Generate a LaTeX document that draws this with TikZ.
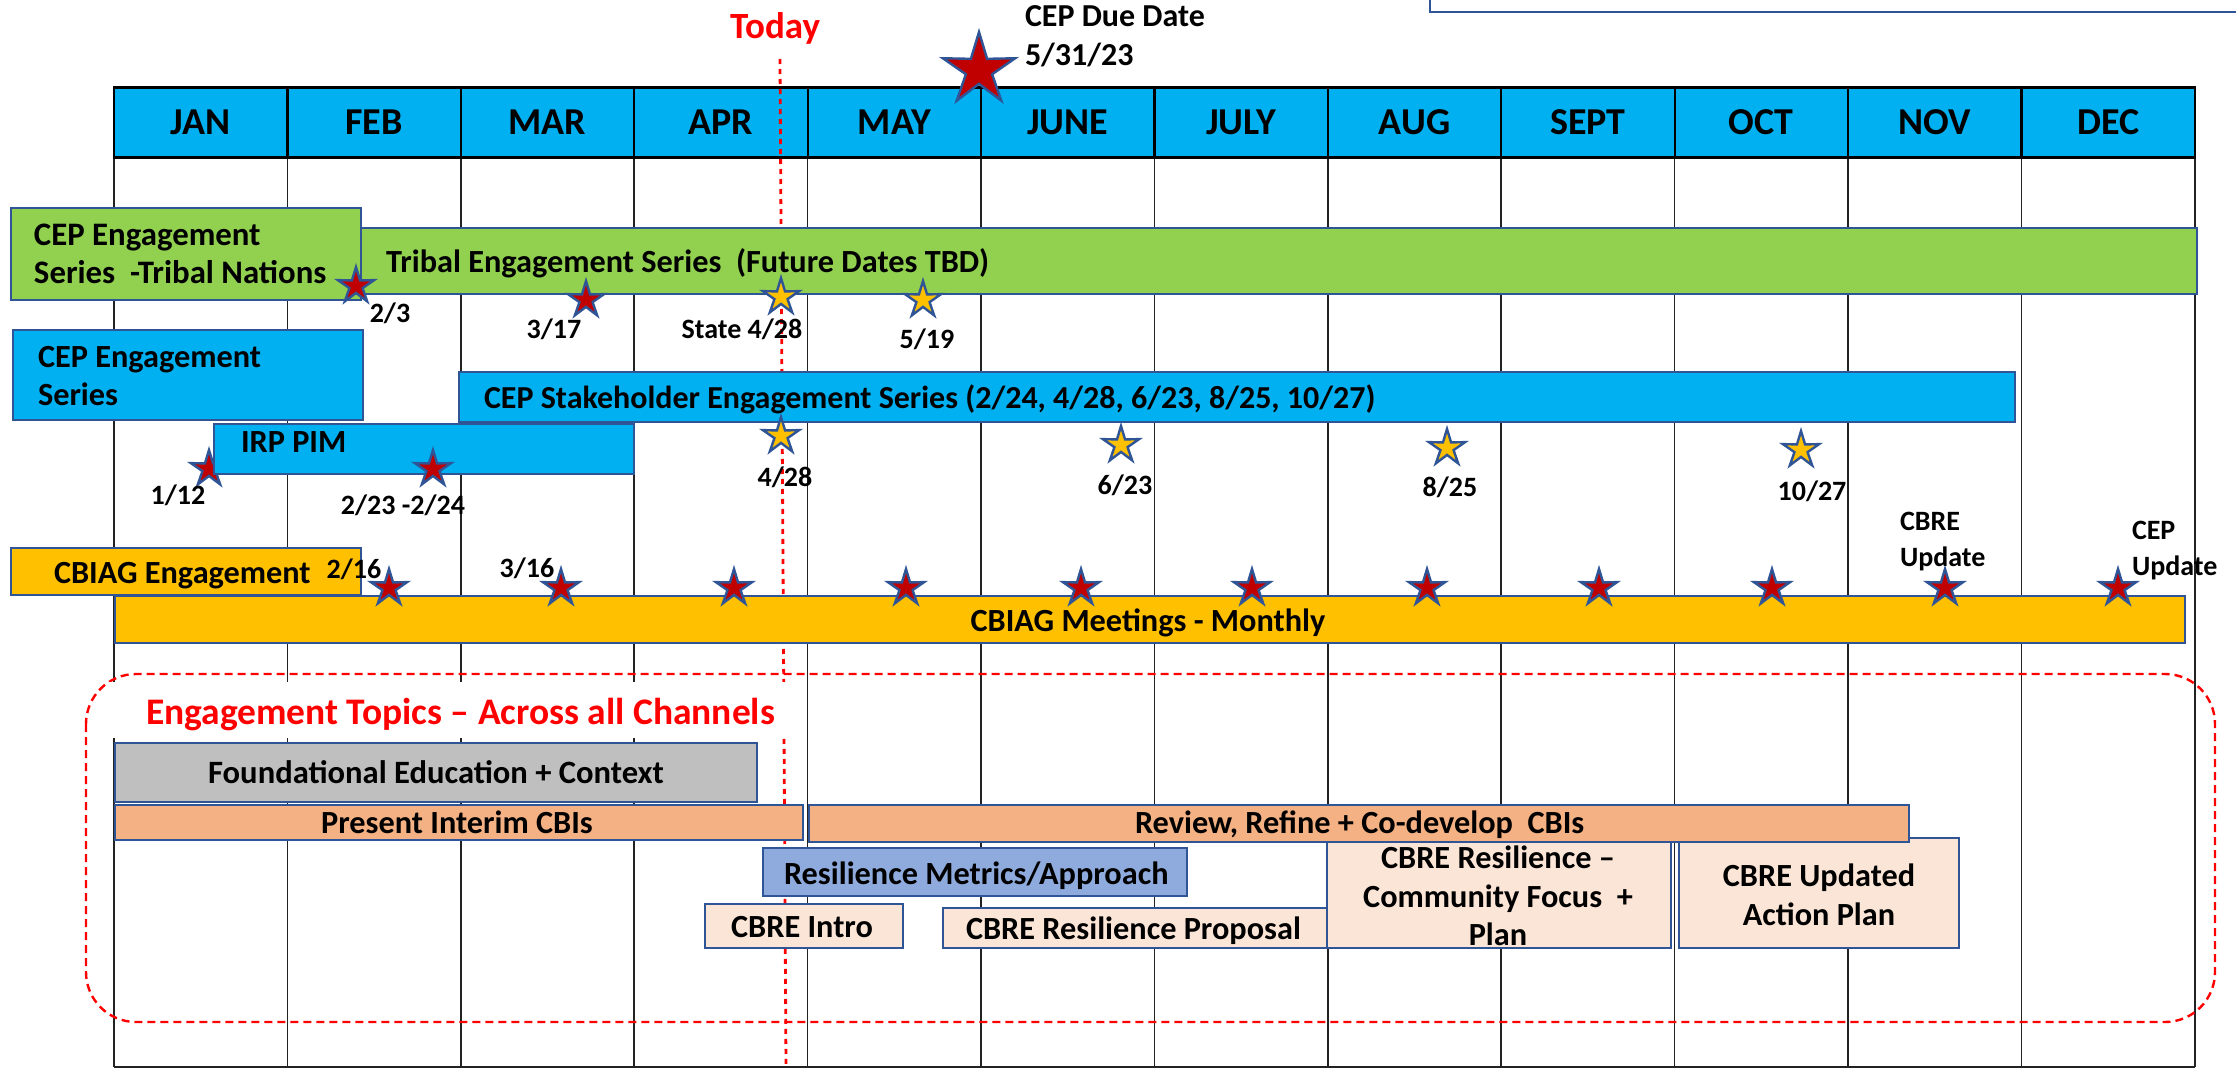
\documentclass[tikz,border=0pt]{standalone}
\usepackage{fontspec}
\setmainfont{Carlito}
\usetikzlibrary{shapes.geometric,fit}
\definecolor{edgeblue}{HTML}{2F5597}
\definecolor{cyanfill}{HTML}{00B0F0}
\definecolor{greenfill}{HTML}{92D050}
\definecolor{amberfill}{HTML}{FFC000}
\definecolor{greyfill}{HTML}{BFBFBF}
\definecolor{orangefill}{HTML}{F4B183}
\definecolor{periwinkle}{HTML}{8FAADC}
\definecolor{peachfill}{HTML}{FBE5D6}
\definecolor{starred}{HTML}{C00000}
\definecolor{gridgrey}{HTML}{222222}
\newcommand\fsz[1]{\fontsize{#1}{#1}\selectfont\bfseries}
\newcommand\fszl[2]{\fontsize{#1}{#2}\selectfont\bfseries}
\tikzset{
  x=1pt,y=-1pt,
  gridline/.style={draw=gridgrey,line width=1.5pt},
  cell/.style={draw=black,line width=2.2pt,fill=cyanfill,minimum width=173.4pt,minimum height=70pt,inner sep=0pt,outer sep=0pt},
  bar/.style={draw=edgeblue,line width=2.6pt,inner sep=0pt,outer sep=0pt,fit={#1}},
  txt/.style={inner sep=0pt,outer sep=0pt,text height={0.644*#1 pt},text depth=0pt,text=black,font=\fsz{#1}},
  stack/.style={inner sep=0pt,outer sep=0pt,align=left,text=black},
  bigstar/.style={star,star points=5,star point ratio=2.75,draw=edgeblue,line width=2.4pt,inner sep=0pt,outer sep=0pt,minimum size=#1},
  redstar/.style={bigstar=38pt,fill=starred},
  goldstar/.style={bigstar=38pt,fill=amberfill},
  todayline/.style={draw=red,line width=2.8pt,dash pattern=on 5pt off 5pt},
}
\begin{document}
\begin{tikzpicture}
\useasboundingbox (0,0) rectangle (2236,1068);
% fragment of a box cut by the top edge
\coordinate (fragA) at (1430,0);
\coordinate (fragB) at (1430,12);
\coordinate (fragC) at (2236,12);
\draw[edgeblue,line width=2.6pt] (fragA) -- (fragB) -- (fragC);
% month columns
\foreach \i/\m in {1/JAN,2/FEB,3/MAR,4/APR,5/MAY,6/JUNE,7/JULY,8/AUG,9/SEPT,10/OCT,11/NOV,12/DEC}{
  \coordinate (gtop\i) at ({114+173.4*(\i-1)},157);
  \coordinate (gbot\i) at ({114+173.4*(\i-1)},1067);
  \draw[gridline] (gtop\i) -- (gbot\i);
}
\coordinate (gtop13) at (2194.8,157);
\coordinate (gbot13) at (2194.8,1067);
\draw[gridline] (gtop13) -- (gbot13);
\draw[gridline] (gbot1) -- (gbot13);
\foreach \i/\m in {1/JAN,2/FEB,3/MAR,4/APR,5/MAY,6/JUNE,7/JULY,8/AUG,9/SEPT,10/OCT,11/NOV,12/DEC}{
  \node[cell,txt=38,draw=black,minimum width=173.4pt,minimum height=70pt] (m\i) at ({114+173.4*(\i-.5)},122.5) {\m};
}
\draw[black,line width=3.6pt] (m1.north west) -- (m12.north east) (m1.south west) -- (m12.south east);
% today line
\coordinate (todayA) at (780,59);
\coordinate (todayB) at (786,1068);
\draw[todayline] (todayA) -- (todayB);
\node[txt=37,text=red] (today) at (775,27) {Today};
% CEP due date
\node[stack,font=\fszl{32}{38.5},anchor=west] (due) at (1025,36) {CEP Due Date\\5/31/23};
\node[bigstar=76pt,fill=starred] (duestar) at (979,70) {};
% dashed frame of engagement topics
\draw[red,line width=2.4pt,dash pattern=on 8pt off 5pt,rounded corners=50pt] (86,674) rectangle (2215,1022);
\node[fill=white,inner sep=0pt,fit={(106,682)(792,738)}] (topicback) {};
\node[txt=37.5,text=red,anchor=west] (topics) at (146,712) {Engagement Topics – Across all Channels};
% stars tucked under bars
\node[redstar] (s112) at (209,469) {};
% green bars
\node[bar={(361,228)(2197,294)},fill=greenfill] (tribal) {};
\node[txt=32.3,anchor=west] (tribalt) at (386,262) {Tribal Engagement Series\ \ (Future Dates TBD)};
\node[bar={(11,208)(361,300)},fill=greenfill] (tribalhead) {};
\node[stack,font=\fszl{32.8}{38.5},anchor=west] (tribalheadt) at (34,254) {CEP Engagement\\Series\ \ -Tribal Nations};
% blue bars
\node[bar={(13,330)(363,420)},fill=cyanfill] (cephead) {};
\node[stack,font=\fszl{32.3}{38.5},anchor=west] (cepheadt) at (38,376) {CEP Engagement\\Series};
\node[bar={(459,372)(2015,422)},fill=cyanfill] (stake) {};
\node[txt=32,anchor=west] (staket) at (484,398) {CEP Stakeholder Engagement Series (2/24, 4/28, 6/23, 8/25, 10/27)};
\node[bar={(214,424)(634,474)},fill=cyanfill] (irp) {};
\node[txt=32.3,anchor=west] (irpt) at (241,442) {IRP PIM};
% amber bars
\node[bar={(115,596)(2185,643)},fill=amberfill] (cbiag) {};
\node[txt=32.3] (cbiagt) at (1148,621) {CBIAG Meetings - Monthly};
\node[bar={(11,548)(361,595)},fill=amberfill] (cbiaghead) {};
\node[txt=32.3,anchor=west] (cbiagheadt) at (54,573) {CBIAG Engagement};
% topic bars
\node[bar={(115,743)(757,802)},fill=greyfill] (found) {};
\node[txt=32.6] (foundt) at (436,773) {Foundational Education + Context};
\node[bar={(1327,830)(1671,948)},fill=peachfill] (commun) {};
\node[stack,align=center,font=\fszl{32.3}{38.5}] (communt) at (1498,896) {CBRE Resilience –\\Community Focus\ \ +\\Plan};
\node[bar={(1679,838)(1959,948)},fill=peachfill] (updated) {};
\node[stack,align=center,font=\fszl{32.3}{38.5}] (updatedt) at (1819,895) {CBRE Updated\\Action Plan};
\node[bar={(115,805)(803,840)},fill=orangefill] (present) {};
\node[txt=32.3] (presentt) at (457,823) {Present Interim CBIs};
\node[bar={(809,805)(1909,842)},fill=orangefill] (review) {};
\node[txt=32.3,anchor=west] (reviewt) at (1135,823) {Review, Refine + Co-develop\ \ CBIs};
\node[bar={(763,848)(1187,896)},fill=periwinkle] (metrics) {};
\node[txt=32.3,anchor=west] (metricst) at (784,874) {Resilience Metrics/Approach};
\node[bar={(705,904)(903,948)},fill=peachfill] (intro) {};
\node[txt=32.3] (introt) at (802,927) {CBRE Intro};
\node[bar={(943,908)(1327,948)},fill=peachfill] (proposal) {};
\node[txt=32.3,anchor=west] (proposalt) at (966,929) {CBRE Resilience Proposal};
% stars on tribal row
\node[redstar] (s23) at (356,286) {};
\node[redstar] (s317) at (586,300) {};
\node[goldstar] (s428a) at (781,297) {};
\node[goldstar] (s519) at (923,300) {};
% stakeholder stars
\node[goldstar] (s428b) at (781,436) {};
\node[goldstar] (s623) at (1121,445) {};
\node[goldstar] (s825) at (1447,448) {};
\node[goldstar] (s1027) at (1801,450) {};
\node[redstar] (s223) at (433,469) {};
% monthly stars
\foreach \k/\sx in {1/389,2/561,3/734,4/906,5/1081,6/1252,7/1427,8/1599,9/1772,10/1945,11/2118}{
  \node[redstar] (mstar\k) at (\sx,588) {};
}
% date labels
\node[txt=28] (l23) at (390,313) {2/3};
\node[txt=28] (l317) at (554,329) {3/17};
\node[txt=28] (l428a) at (742,329) {State 4/28};
\node[txt=28] (l519) at (927,339) {5/19};
\node[txt=28] (l428b) at (785,477) {4/28};
\node[txt=28] (l623) at (1125,485) {6/23};
\node[txt=28] (l825) at (1450,487) {8/25};
\node[txt=28] (l1027) at (1812,491) {10/27};
\node[txt=28] (l112) at (178,495) {1/12};
\node[txt=28] (l223) at (403,505) {2/23 -2/24};
\node[txt=28] (l216) at (354,569) {2/16};
\node[txt=28] (l316) at (527,568) {3/16};
\node[stack,font=\fszl{28}{36},anchor=west] (lcbre) at (1900,542) {CBRE\\Update};
\node[stack,font=\fszl{28}{36},anchor=west] (lcep) at (2132,551) {CEP\\Update};
\end{tikzpicture}
\end{document}
